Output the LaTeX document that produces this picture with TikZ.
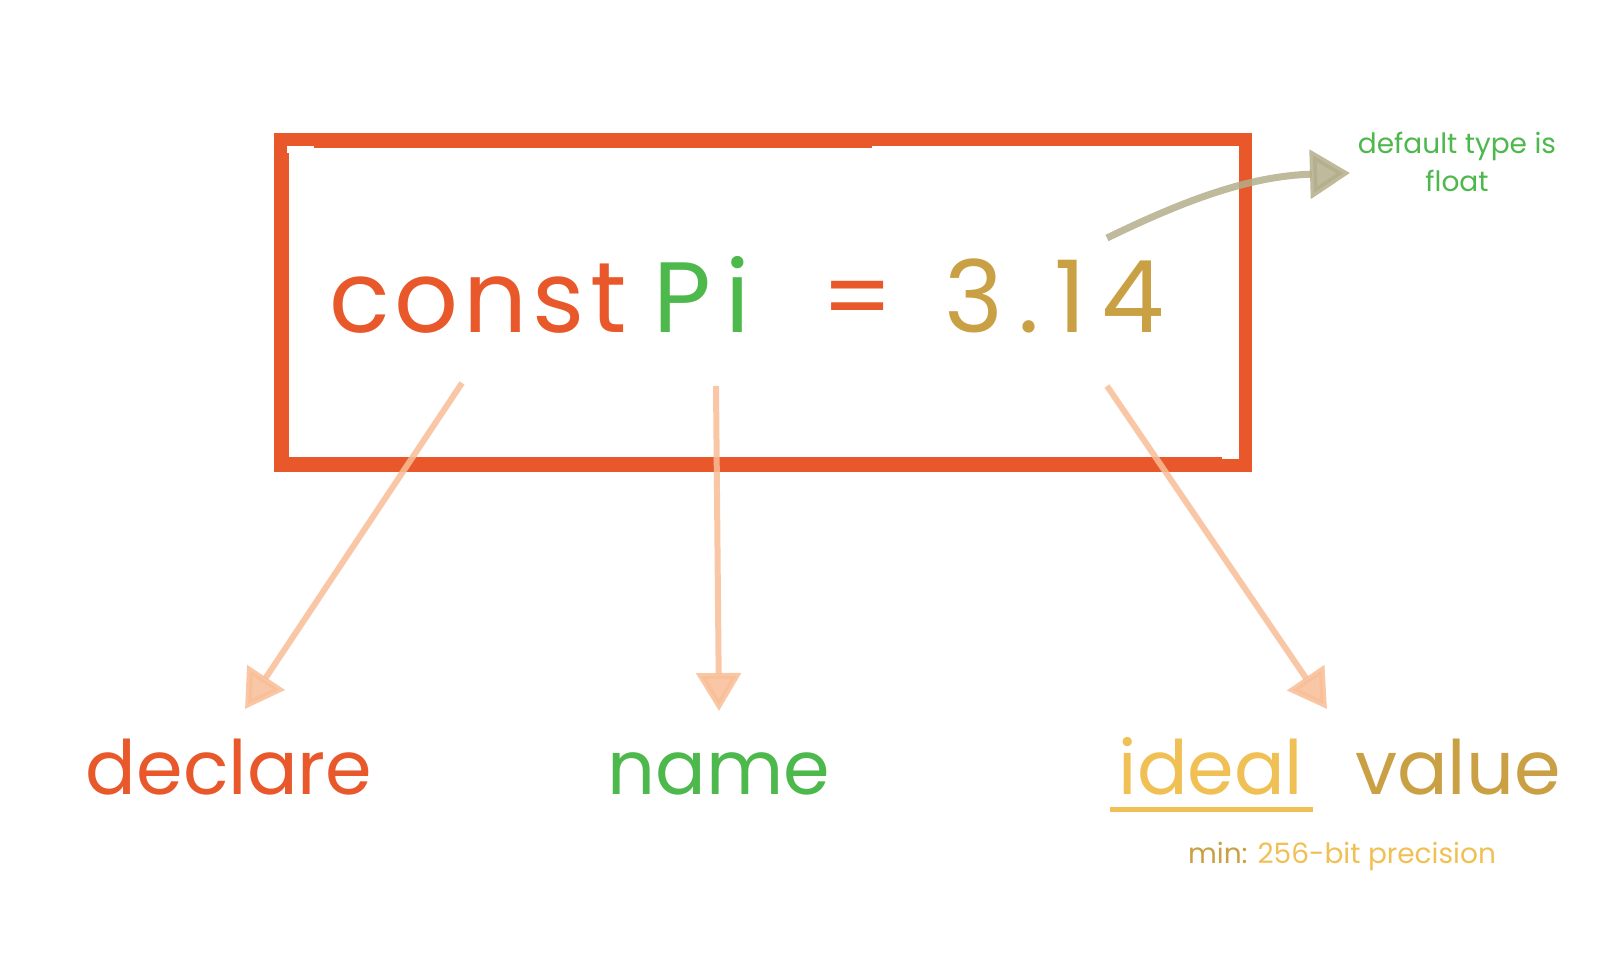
\documentclass[tikz,border=0pt]{standalone}
\usepackage{fontspec}
\setmainfont{Poppins}
\usetikzlibrary{arrows.meta}
\definecolor{cRed}{HTML}{E8582A}
\definecolor{cGreen}{HTML}{4DB84C}
\definecolor{cGold}{HTML}{C9A043}
\definecolor{cYellow}{HTML}{F0C055}
\definecolor{cPeach}{HTML}{F8BE96}
\definecolor{cKhaki}{HTML}{B3AE8A}
\tikzset{
  frame/.style={draw=cRed, line width=13pt, line join=miter},
  sketch/.style={draw=cRed, line width=2pt},
  pointer/.style={draw=cPeach, line width=6pt, opacity=0.85, -{Triangle[length=38pt,width=44pt]}},
  curvy/.style={draw=cKhaki, line width=7pt, opacity=0.85, -{Triangle[length=40pt,width=48pt]}},
  big/.style={font=\fontsize{100}{120}\selectfont, anchor=base west, inner sep=0pt},
  label/.style={font=\fontsize{75}{90}\selectfont, anchor=base, inner sep=0pt},
  note/.style={font=\fontsize{28}{38}\selectfont, align=center, text=cGreen, inner sep=0pt},
  small/.style={font=\fontsize{28}{34}\selectfont, anchor=base, inner sep=0pt}
}
\begin{document}
\begin{tikzpicture}[x=1pt,y=-1pt]
\useasboundingbox (0,0) rectangle (1600,960);
\fill[white] (0,0) rectangle (1600,960);
% box
\node[frame, minimum width=965pt, minimum height=325pt, inner sep=0pt] (box) at (762.5,302.5) {};
\draw[sketch] ([shift={(14,-8)}]box.south west) -- ([shift={(14,20)}]box.north west);
\draw[sketch] ([shift={(14,-14)}]box.south west) -- ([shift={(-30,-14)}]box.south east);
\draw[sketch] ([shift={(40,14)}]box.north west) -- ([shift={(-380,14)}]box.north east);
% main text
\node[big, text=cRed, font=\fontsize{100}{120}\selectfont\addfontfeature{LetterSpace=5}] (kw) at (329,332) {const};
\node[big, text=cGreen, font=\fontsize{100}{120}\selectfont\addfontfeature{LetterSpace=14}] (pi) at (653,332) {Pi};
\node[big, text=cRed] (eq) at (821,332) {=};
\node[big, text=cGold, font=\fontsize{100}{120}\selectfont\addfontfeature{LetterSpace=15}] (num) at (944,332) {3.14};
% labels
\node[label, text=cRed] (declare) at (229,794) {declare};
\node[label, text=cGreen] (name) at (719,794) {name};
\node[label, text=cYellow] (ideal) at (1211,794) {ideal};
\node[label, text=cGold] (value) at (1458,794) {value};
\coordinate (ul1) at (1110,809);
\coordinate (ul2) at (1313,809);
\draw[cYellow, line width=5pt] (ul1) -- (ul2);
\node[small] (min) at (1342,863) {\textcolor{cGold}{min:} \textcolor{cYellow}{256-bit precision}};
\node[note] (note) at (1457,162) {default type is\\float};
% arrow anchors
\coordinate (s1) at (462,383);
\coordinate (t1) at (245,709);
\coordinate (s2) at (716,386);
\coordinate (t2) at (719,711);
\coordinate (s3) at (1107,386);
\coordinate (t3) at (1327,709);
\coordinate (s4) at (1107,238);
\coordinate (t4) at (1350,173);
\draw[pointer] (s1) -- (t1);
\draw[pointer] (s2) -- (t2);
\draw[pointer] (s3) -- (t3);
\draw[curvy] (s4) .. controls (1185,200) and (1250,176) .. (t4);
\end{tikzpicture}
\end{document}
